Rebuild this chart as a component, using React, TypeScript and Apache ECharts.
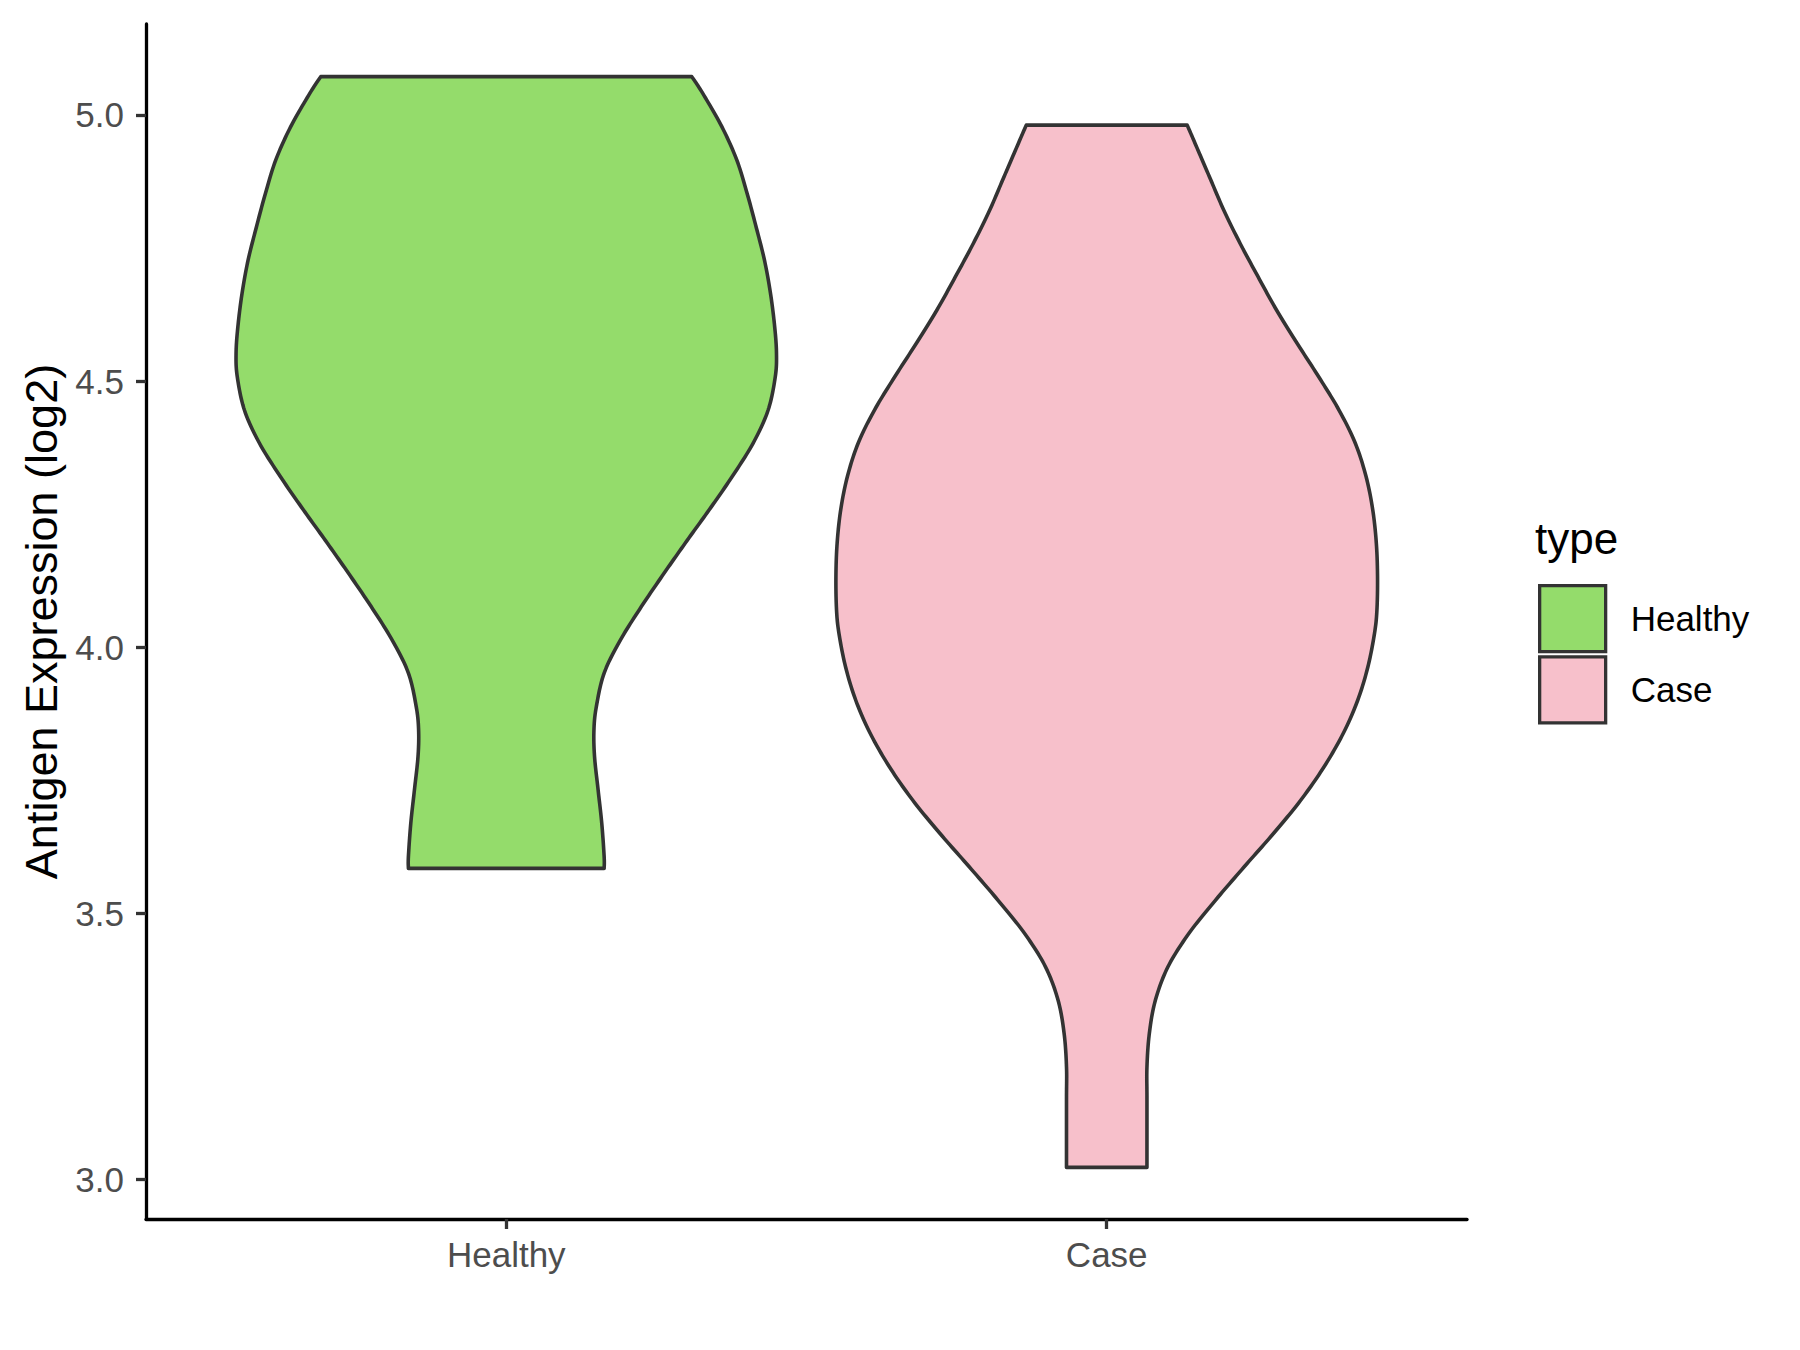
import React, { useEffect, useRef } from "react";
import * as echarts from "echarts";

// ---- data ----
const categories = ["Healthy", "Case"];
const yTicks = [3.0, 3.5, 4.0, 4.5, 5.0];
const fillColors = ["#94DC6B", "#F7C0CB"];

// violin outlines (value on y, half-width in x-axis units), top to bottom
const healthyY = [5.072, 5.041, 4.978, 4.915, 4.853, 4.790, 4.727, 4.665, 4.602, 4.552, 4.508, 4.445, 4.383, 4.320, 4.258, 4.200, 4.139, 4.076, 4.013, 3.951, 3.888, 3.844, 3.794, 3.731, 3.669, 3.606, 3.584];
const healthyHalf = [0.309, 0.327, 0.359, 0.384, 0.401, 0.416, 0.430, 0.440, 0.447, 0.450, 0.448, 0.436, 0.411, 0.376, 0.338, 0.301, 0.263, 0.225, 0.190, 0.163, 0.150, 0.146, 0.147, 0.153, 0.159, 0.163, 0.163];

const caseY = [4.981, 4.947, 4.884, 4.821, 4.759, 4.696, 4.633, 4.571, 4.508, 4.445, 4.383, 4.320, 4.258, 4.195, 4.132, 4.070, 4.026, 3.963, 3.900, 3.838, 3.775, 3.712, 3.650, 3.587, 3.524, 3.462, 3.399, 3.336, 3.274, 3.211, 3.149, 3.022];
const caseHalf = [0.134, 0.147, 0.171, 0.195, 0.222, 0.252, 0.283, 0.317, 0.353, 0.387, 0.414, 0.432, 0.443, 0.449, 0.451, 0.450, 0.446, 0.435, 0.418, 0.394, 0.362, 0.323, 0.278, 0.229, 0.181, 0.137, 0.102, 0.081, 0.071, 0.067, 0.067, 0.067];

const profiles = [
  { y: healthyY, half: healthyHalf },
  { y: caseY, half: caseHalf },
];

const FONT = "'Liberation Sans', Arial, Helvetica, sans-serif";

function catmull(pts: number[][], seg = 12): number[][] {
  const out: number[][] = [];
  const n = pts.length;
  for (let i = 0; i < n - 1; i++) {
    const p0 = pts[Math.max(0, i - 1)];
    const p1 = pts[i];
    const p2 = pts[i + 1];
    const p3 = pts[Math.min(n - 1, i + 2)];
    for (let s = 0; s < seg; s++) {
      const t = s / seg;
      const t2 = t * t;
      const t3 = t2 * t;
      const f = (a: number, b: number, c: number, d: number) =>
        0.5 * (2 * b + (-a + c) * t + (2 * a - 5 * b + 4 * c - d) * t2 + (-a + 3 * b - 3 * c + d) * t3);
      out.push([f(p0[0], p1[0], p2[0], p3[0]), f(p0[1], p1[1], p2[1], p3[1])]);
    }
  }
  out.push(pts[n - 1]);
  return out;
}

function makeRenderItem(idx: number) {
  return (params: any, api: any) => {
    const xc = api.value(0);
    const prof = profiles[idx];
    const left = prof.y.map((v, i) => api.coord([xc - prof.half[i], v]));
    const right = prof.y.map((v, i) => api.coord([xc + prof.half[i], v]));
    const ls = catmull(left);
    const rs = catmull(right).reverse();
    return {
      type: "polygon",
      shape: { points: ls.concat(rs) },
      style: {
        fill: fillColors[idx],
        stroke: "#333333",
        lineWidth: 3.6,
        lineJoin: "round",
      },
    };
  };
}

export default function App() {
  const ref = useRef<HTMLDivElement>(null);
  useEffect(() => {
    if (!ref.current) return;
    const chart = echarts.init(ref.current, undefined, { renderer: "svg" });
    chart.setOption({
      animation: false,
      backgroundColor: "#ffffff",
      textStyle: { fontFamily: FONT },
      grid: { left: 146, right: 333, top: 24, bottom: 131, containLabel: false },
      xAxis: {
        type: "value",
        min: 0.4,
        max: 2.6,
        axisLine: { show: true, lineStyle: { color: "#000000", width: 3.3 } },
        axisTick: { show: true, customValues: [1, 2], length: 10, lineStyle: { color: "#333333", width: 3.3 } },
        axisLabel: {
          customValues: [1, 2],
          formatter: (v: number) => categories[Math.round(v) - 1],
          fontSize: 35,
          color: "#4D4D4D",
          margin: 18,
          fontFamily: FONT,
        },
        splitLine: { show: false },
      },
      yAxis: {
        type: "value",
        min: 2.925,
        max: 5.171,
        name: "Antigen Expression (log2)",
        nameLocation: "middle",
        nameGap: 80,
        nameTextStyle: { fontSize: 45, color: "#000000", fontFamily: FONT },
        axisLine: { show: true, lineStyle: { color: "#000000", width: 3.3 } },
        axisTick: { show: true, customValues: yTicks, length: 10, lineStyle: { color: "#333333", width: 3.3 } },
        axisLabel: {
          customValues: yTicks,
          formatter: (v: number) => v.toFixed(1),
          fontSize: 35,
          color: "#4D4D4D",
          margin: 22,
          fontFamily: FONT,
        },
        splitLine: { show: false },
      },
      legend: {
        orient: "vertical",
        left: 1538,
        top: 584,
        padding: 0,
        itemWidth: 66,
        itemHeight: 66,
        itemGap: 2,
        textStyle: { fontSize: 35, color: "#000000", fontFamily: FONT, padding: [0, 0, 0, 20] },
        data: categories.map((c, i) => ({
          name: c,
          icon: "rect",
          itemStyle: { color: fillColors[i], borderColor: "#333333", borderWidth: 3.3 },
        })),
      },
      graphic: [
        {
          type: "text",
          left: 1535,
          top: 516,
          style: { text: "type", fontSize: 44, fill: "#000000", fontFamily: FONT },
        },
      ],
      series: categories.map((c, i) => ({
        type: "custom",
        name: c,
        coordinateSystem: "cartesian2d",
        itemStyle: { color: fillColors[i] },
        renderItem: makeRenderItem(i),
        data: [[i + 1, profiles[i].y[0]]],
        encode: { x: 0, y: 1 },
      })),
    });
    return () => chart.dispose();
  }, []);
  return (
    <div
      ref={ref}
      style={{ position: "absolute", left: 0, top: 0, width: 1800, height: 1350 }}
    />
  );
}
